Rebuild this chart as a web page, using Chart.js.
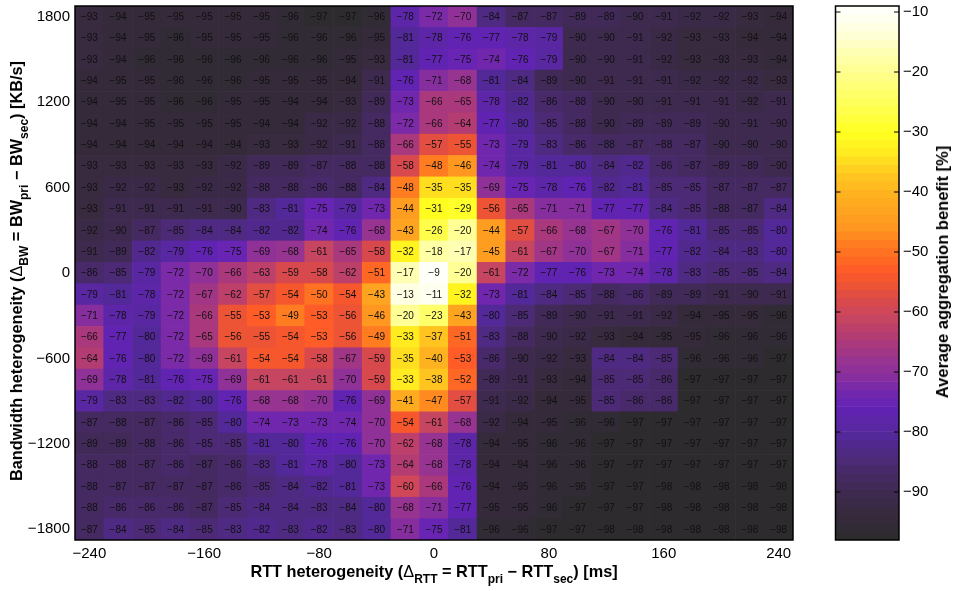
<!DOCTYPE html>
<html>
<head>
<meta charset="utf-8">
<title>Average aggregation benefit</title>
<script src="https://cdn.jsdelivr.net/npm/chart.js@4/dist/chart.umd.min.js"></script>
<style>
    html, body { margin: 0; padding: 0; background: #fff; }
    body { width: 954px; height: 591px; position: relative; overflow: hidden; font-family: "Liberation Sans", sans-serif; }
    canvas { position: absolute; top: 0; }
    #heat { left: 0; }
    #bar { left: 830px; }
    .title { position: absolute; font-weight: bold; font-size: 16.3px; line-height: 20px; white-space: nowrap; color: #000; }
    .title i { font-style: normal; font-weight: normal; }
    .title span { font-size: 12px; position: relative; top: 6px; }
    #xTitle { left: 434px; top: 561px; transform: translateX(-50%); }
    #yTitle { left: 17px; top: 271px; transform: translate(-50%, -50%) rotate(-90deg); }
    #cTitle { left: 942px; top: 272px; transform: translate(-50%, -50%) rotate(-90deg); font-size: 16.5px; }
</style>
</head>
<body>
<canvas id="heat" width="830" height="591"></canvas>
<canvas id="bar" width="124" height="591"></canvas>
<div class="title" id="xTitle">RTT heterogeneity (<i>Δ</i><span>RTT</span> = RTT<span>pri</span> − RTT<span>sec</span>) [ms]</div>
<div class="title" id="yTitle">Bandwidth heterogeneity (<i>Δ</i><span>BW</span> = BW<span>pri</span> − BW<span>sec</span>) [KB/s]</div>
<div class="title" id="cTitle">Average aggregation benefit [%]</div>
<script>
const rttValues = [-240, -220, -200, -180, -160, -140, -120, -100, -80, -60, -40, -20, 0, 20, 40, 60, 80, 100, 120, 140, 160, 180, 200, 220, 240];
const bwValues = [1800, 1650, 1500, 1350, 1200, 1050, 900, 750, 600, 450, 300, 150, 0, -150, -300, -450, -600, -750, -900, -1050, -1200, -1350, -1500, -1650, -1800];

const row1800 = [-93, -94, -95, -95, -95, -95, -95, -96, -97, -97, -96, -78, -72, -70, -84, -87, -87, -89, -89, -90, -91, -92, -92, -93, -94];
const row1650 = [-93, -94, -95, -96, -95, -95, -95, -96, -96, -96, -95, -81, -78, -76, -77, -78, -79, -90, -90, -91, -92, -93, -93, -94, -94];
const row1500 = [-93, -94, -96, -96, -96, -96, -96, -96, -96, -95, -93, -81, -77, -75, -74, -76, -79, -90, -90, -91, -92, -93, -93, -93, -94];
const row1350 = [-94, -95, -95, -96, -96, -96, -95, -95, -95, -94, -91, -76, -71, -68, -81, -84, -89, -90, -91, -91, -91, -92, -92, -92, -93];
const row1200 = [-94, -95, -95, -96, -96, -95, -95, -94, -94, -93, -89, -73, -66, -65, -78, -82, -86, -88, -90, -90, -91, -91, -91, -92, -91];
const row1050 = [-94, -94, -95, -95, -95, -95, -94, -94, -92, -92, -88, -72, -66, -64, -77, -80, -85, -88, -90, -89, -89, -89, -90, -91, -90];
const row900 = [-94, -94, -94, -94, -94, -94, -93, -93, -92, -91, -88, -66, -57, -55, -73, -79, -83, -86, -88, -87, -88, -87, -90, -90, -90];
const row750 = [-93, -93, -93, -93, -93, -92, -89, -89, -87, -88, -88, -58, -48, -46, -74, -79, -81, -80, -84, -82, -86, -87, -89, -89, -90];
const row600 = [-93, -92, -92, -93, -92, -92, -88, -88, -86, -88, -84, -48, -35, -35, -69, -75, -78, -76, -82, -81, -85, -85, -87, -87, -87];
const row450 = [-93, -91, -91, -91, -91, -90, -83, -81, -75, -79, -73, -44, -31, -29, -56, -65, -71, -71, -77, -77, -84, -85, -88, -87, -84];
const row300 = [-92, -90, -87, -85, -84, -84, -82, -82, -74, -76, -68, -43, -26, -20, -44, -57, -66, -68, -67, -70, -76, -81, -85, -85, -80];
const row150 = [-91, -89, -82, -79, -76, -75, -69, -68, -61, -65, -58, -32, -18, -17, -45, -61, -67, -70, -67, -71, -77, -82, -84, -83, -80];
const row0 = [-86, -85, -79, -72, -70, -66, -63, -59, -58, -62, -51, -17, -9, -20, -61, -72, -77, -76, -73, -74, -78, -83, -85, -85, -84];
const rowM150 = [-79, -81, -78, -72, -67, -62, -57, -54, -50, -54, -43, -13, -11, -32, -73, -81, -84, -85, -88, -86, -89, -89, -91, -90, -91];
const rowM300 = [-71, -78, -79, -72, -66, -55, -53, -49, -53, -56, -46, -20, -23, -43, -80, -85, -89, -90, -91, -91, -92, -94, -95, -95, -96];
const rowM450 = [-66, -77, -80, -72, -65, -56, -55, -54, -53, -56, -49, -33, -37, -51, -83, -88, -90, -92, -93, -94, -95, -95, -96, -96, -96];
const rowM600 = [-64, -76, -80, -72, -69, -61, -54, -54, -58, -67, -59, -35, -40, -53, -86, -90, -92, -93, -84, -84, -85, -96, -96, -96, -97];
const rowM750 = [-69, -78, -81, -76, -75, -69, -61, -61, -61, -70, -59, -33, -38, -52, -89, -91, -93, -94, -85, -85, -86, -97, -97, -97, -97];
const rowM900 = [-79, -83, -83, -82, -80, -76, -68, -68, -70, -76, -69, -41, -47, -57, -91, -92, -94, -95, -85, -86, -86, -97, -97, -97, -97];
const rowM1050 = [-87, -88, -87, -86, -85, -80, -74, -73, -73, -74, -70, -54, -61, -68, -92, -94, -95, -96, -96, -97, -97, -97, -97, -97, -97];
const rowM1200 = [-89, -89, -88, -86, -85, -85, -81, -80, -76, -76, -70, -62, -68, -78, -94, -95, -96, -96, -97, -97, -97, -97, -97, -97, -97];
const rowM1350 = [-88, -88, -87, -86, -87, -86, -83, -81, -78, -80, -73, -64, -68, -78, -94, -94, -96, -96, -97, -97, -97, -97, -97, -97, -97];
const rowM1500 = [-88, -87, -87, -87, -87, -86, -85, -84, -82, -81, -73, -60, -66, -76, -94, -95, -96, -96, -97, -97, -98, -98, -98, -98, -98];
const rowM1650 = [-88, -86, -86, -86, -87, -85, -84, -84, -83, -84, -80, -68, -71, -77, -95, -95, -96, -97, -97, -97, -98, -98, -98, -98, -98];
const rowM1800 = [-87, -84, -85, -84, -85, -83, -82, -83, -82, -83, -80, -71, -75, -81, -96, -96, -97, -97, -98, -98, -98, -98, -98, -98, -98];

const rows = [row1800, row1650, row1500, row1350, row1200, row1050, row900, row750, row600, row450, row300, row150, row0,
    rowM150, rowM300, rowM450, rowM600, rowM750, rowM900, rowM1050, rowM1200, rowM1350, rowM1500, rowM1650, rowM1800];

const xTicks = [-240, -160, -80, 0, 80, 160, 240];
const yTicks = [-1800, -1200, -600, 0, 600, 1200, 1800];
const colorTicks = [-90, -80, -70, -60, -50, -40, -30, -20, -10];
const colorMin = -98;
const colorMax = -9;
const colorSteps = 64;

// colormap anchors: value, r, g, b
const colorAnchors = [
    [-98, 43, 43, 43],
    [-93, 56, 42, 64],
    [-90, 62, 42, 80],
    [-87, 70, 42, 100],
    [-84, 78, 42, 125],
    [-81, 82, 40, 150],
    [-78, 92, 38, 168],
    [-76, 99, 34, 181],
    [-73, 116, 40, 172],
    [-71, 134, 46, 160],
    [-68, 152, 51, 143],
    [-65, 172, 57, 122],
    [-61, 199, 69, 96],
    [-58, 218, 74, 76],
    [-55, 242, 85, 48],
    [-53, 255, 90, 40],
    [-49, 255, 122, 32],
    [-46, 255, 150, 32],
    [-40, 255, 179, 32],
    [-37, 255, 200, 32],
    [-33, 255, 238, 32],
    [-30, 255, 255, 32],
    [-26, 255, 255, 80],
    [-20, 255, 255, 144],
    [-17, 255, 255, 176],
    [-13, 255, 255, 224],
    [-9, 255, 255, 255]
];

function colorFor(v) {
    // the map has 64 flat levels, like the stepped colorbar
    const size = (colorMax - colorMin) / colorSteps;
    const level = Math.min(colorSteps - 1, Math.floor((v - colorMin) / size));
    const c = colorMin + (level + 0.5) * size;
    let i = 0;
    while (i < colorAnchors.length - 2 && colorAnchors[i + 1][0] < c) i++;
    const a = colorAnchors[i], b = colorAnchors[i + 1];
    const t = Math.max(0, Math.min(1, (c - a[0]) / (b[0] - a[0])));
    return `rgb(${[1, 2, 3].map(k => Math.round(a[k] + (b[k] - a[k]) * t)).join(',')})`;
}

const minus = n => String(n).replace('-', '\u2212');
const tickFont = { family: '"Liberation Sans", sans-serif', size: 15 };

// tick labels must not push the plot area in, the frame is placed by hand
function fixY(scale, width) {
    scale.width = width;
    scale.paddingTop = 0;
    scale.paddingBottom = 0;
}

// black frame, the colorbar also gets its inward ticks on both sides
const framePlugin = {
    id: 'frame',
    afterDatasetsDraw(chart, args, opts) {
        const { ctx, chartArea: a, scales } = chart;
        ctx.save();
        ctx.strokeStyle = '#000';
        if (opts.inwardTicks) {
            ctx.lineWidth = 1;
            ctx.beginPath();
            scales.y.ticks.forEach(t => {
                const py = scales.y.getPixelForValue(t.value);
                ctx.moveTo(a.left, py); ctx.lineTo(a.left + 5, py);
                ctx.moveTo(a.right, py); ctx.lineTo(a.right - 5, py);
            });
            ctx.stroke();
        }
        ctx.lineWidth = 1.5;
        ctx.strokeRect(a.left, a.top, a.right - a.left, a.bottom - a.top);
        ctx.restore();
    }
};

// the number printed in each cell
const cellLabels = {
    id: 'cellLabels',
    afterDatasetsDraw(chart) {
        const { ctx, scales } = chart;
        ctx.save();
        ctx.font = '10px "Liberation Sans", sans-serif';
        ctx.fillStyle = '#111';
        ctx.textAlign = 'center';
        ctx.textBaseline = 'middle';
        chart.data.datasets[0].data.forEach(d => {
            ctx.fillText(minus(d.v), scales.x.getPixelForValue(d.x), scales.y.getPixelForValue(d.row) + 0.5);
        });
        ctx.restore();
    }
};

const cells = rows.flatMap((row, r) => row.map((v, c) => ({
    x: rttValues[c],
    y: [bwValues[r] - 75, bwValues[r] + 75],
    row: bwValues[r],
    v: v
})));

new Chart(document.getElementById('heat'), {
    type: 'bar',
    data: {
        datasets: [{
            data: cells,
            backgroundColor: ctx => colorFor(ctx.raw.v),
            borderWidth: 0,
            barPercentage: 1,
            categoryPercentage: 1
        }]
    },
    options: {
        responsive: false,
        animation: false,
        events: [],
        layout: { padding: { top: 6, right: 37, left: 0, bottom: 0 } },
        plugins: { legend: { display: false }, tooltip: { enabled: false }, frame: { inwardTicks: false } },
        scales: {
            x: {
                type: 'linear',
                offset: false,
                min: -250,
                max: 250,
                grid: { display: false, drawTicks: false },
                border: { display: false },
                afterBuildTicks: s => { s.ticks = xTicks.map(value => ({ value })); },
                afterFit: s => { s.height = 51; s.paddingLeft = 0; s.paddingRight = 0; },
                ticks: { color: '#000', font: tickFont, padding: 5, maxRotation: 0, autoSkip: false, callback: minus }
            },
            y: {
                type: 'linear',
                min: -1875,
                max: 1875,
                grid: { display: false, drawTicks: false },
                border: { display: false },
                afterBuildTicks: s => { s.ticks = yTicks.map(value => ({ value })); },
                afterFit: s => fixY(s, 75),
                ticks: { color: '#000', font: tickFont, padding: 5, autoSkip: false, callback: minus }
            }
        }
    },
    plugins: [framePlugin, cellLabels]
});

const levelSize = (colorMax - colorMin) / colorSteps;
const levels = Array.from({ length: colorSteps }, (_, i) => colorMin + (i + 0.5) * levelSize);

new Chart(document.getElementById('bar'), {
    type: 'bar',
    data: {
        datasets: [{
            data: levels.map(y => ({ x: 1, y })),
            backgroundColor: levels.map(colorFor),
            borderWidth: 0,
            barPercentage: 1,
            categoryPercentage: 1
        }]
    },
    options: {
        indexAxis: 'y',
        responsive: false,
        animation: false,
        events: [],
        layout: { padding: { top: 6, right: 0, left: 5.5, bottom: 51 } },
        plugins: { legend: { display: false }, tooltip: { enabled: false }, frame: { inwardTicks: true } },
        scales: {
            x: { type: 'linear', min: 0, max: 1, display: false },
            y: {
                type: 'linear',
                position: 'right',
                offset: false,
                min: colorMin,
                max: colorMax,
                grid: { display: false, drawTicks: false },
                border: { display: false },
                afterBuildTicks: s => { s.ticks = colorTicks.map(value => ({ value })); },
                afterFit: s => fixY(s, 55),
                ticks: { color: '#000', font: tickFont, padding: 4, autoSkip: false, callback: minus }
            }
        }
    },
    plugins: [framePlugin]
});
</script>
</body>
</html>
